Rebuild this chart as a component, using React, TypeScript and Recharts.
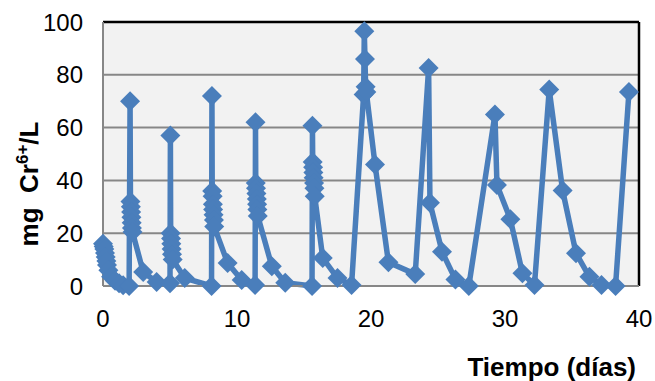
import React from 'react';
import { LineChart, Line, XAxis, YAxis, CartesianGrid, ReferenceLine, Label } from 'recharts';

const days: number[] = [
  0, 0.05, 0.1, 0.15, 0.2, 0.25, 0.3, 0.4, 0.6, 0.9, 1.2, 1.5, 1.95,
  2.02, 2.05, 2.08, 2.1, 2.12, 2.14, 2.16, 2.2, 3.0, 4.0,
  5.0, 5.03, 5.05, 5.08, 5.1, 5.12, 5.15, 5.2, 6.1,
  8.1, 8.13, 8.15, 8.18, 8.2, 8.22, 8.25, 8.28, 8.3, 9.3, 10.35,
  11.35, 11.38, 11.4, 11.42, 11.45, 11.48, 11.5, 11.52, 11.55, 12.6, 13.6,
  15.6, 15.63, 15.65, 15.68, 15.7, 15.72, 15.75, 15.78, 15.8, 16.4, 17.5, 18.55,
  19.45, 19.5, 19.55, 19.6, 19.65, 20.3, 21.3, 23.3,
  24.3, 24.4, 25.3, 26.3, 27.3,
  29.25, 29.4, 30.4, 31.3, 32.2,
  33.3, 34.3, 35.3, 36.3, 37.2, 38.25, 39.25,
];

const values: number[] = [
  16, 15, 14, 12.5, 11, 9.5, 8, 6, 3.5, 2, 1, 0.3, 0,
  70, 32, 30, 28, 26, 24, 22, 20.5, 5.3, 1.5,
  1, 57, 20, 18, 16, 14, 12, 10, 3,
  0, 72, 36, 34, 31, 29, 27, 25, 22.5, 8.7, 2.3,
  0.4, 62, 39, 37, 35, 33, 31, 29, 26.5, 7.5, 1.2,
  0, 60.7, 47, 45, 43, 41, 39, 37, 34, 10.6, 3, 0.4,
  72.5, 96.5, 86, 75.5, 73.5, 46, 9, 4.5,
  82.6, 31.5, 13, 2.5, 0,
  65, 38.3, 25.3, 4.8, 0.4,
  74.4, 36.2, 12.4, 3.5, 0.4, 0, 73.5,
];

const xTicks: number[] = [0, 10, 20, 30, 40];
const yTicks: number[] = [0, 20, 40, 60, 80, 100];

const data = days.map((t, i) => ({ t, v: values[i] }));

const BLUE = '#4A7EBB';
const FONT = '"Liberation Sans", Arial, sans-serif';

const Diamond = (props: any) => {
  const { cx, cy, index } = props;
  if (cx == null || cy == null) return null;
  const r = 10;
  return (
    <path
      key={`d-${index}`}
      d={`M${cx},${cy - r}L${cx + r},${cy}L${cx},${cy + r}L${cx - r},${cy}Z`}
      fill={BLUE}
    />
  );
};

export default function App() {
  return (
    <div style={{ position: 'absolute', left: 0, top: 0, width: 655, height: 381, background: '#fff' }}>
      <LineChart
        width={655}
        height={381}
        data={data}
        margin={{ top: 22, right: 16, left: 0, bottom: 65 }}
        style={{ fontFamily: FONT, overflow: 'visible' }}
      >
        <CartesianGrid vertical={false} fill="#F2F2F2" stroke="#878787" strokeWidth={2} />
        <XAxis
          dataKey="t"
          type="number"
          domain={[0, 40]}
          ticks={xTicks}
          height={30}
          tickLine={false}
          tickSize={0}
          tickMargin={24}
          stroke="#878787"
          strokeWidth={2}
          tick={{ fill: '#000', fontSize: 24, fontFamily: FONT }}
        >
          <Label
            content={() => (
              <text x={636} y={376} textAnchor="end" fontSize={26} fontWeight="bold" fill="#000" fontFamily={FONT}>
                Tiempo (días)
              </text>
            )}
          />
        </XAxis>
        <YAxis
          type="number"
          domain={[0, 100]}
          ticks={yTicks}
          width={103}
          tickLine={false}
          tickSize={0}
          tickMargin={20}
          stroke="#878787"
          strokeWidth={2}
          tick={{ fill: '#000', fontSize: 24, fontFamily: FONT }}
        >
          <Label
            content={() => (
              <text
                transform="translate(38,184) rotate(-90)"
                textAnchor="middle"
                fontSize={26}
                fontWeight="bold"
                fill="#000"
                fontFamily={FONT}
                style={{ whiteSpace: 'pre' }}
              >
                <tspan>{'mg  Cr'}</tspan>
                <tspan fontSize={17} dy={-10}>6+</tspan>
                <tspan dy={10}>/L</tspan>
              </text>
            )}
          />
        </YAxis>
        <ReferenceLine y={100} stroke="#000" strokeWidth={2.5} ifOverflow="visible" />
        <ReferenceLine x={40} stroke="#000" strokeWidth={2.5} ifOverflow="visible" />
        <Line
          type="linear"
          dataKey="v"
          stroke={BLUE}
          strokeWidth={5.5}
          dot={Diamond}
          activeDot={false}
          isAnimationActive={false}
        />
      </LineChart>
    </div>
  );
}
